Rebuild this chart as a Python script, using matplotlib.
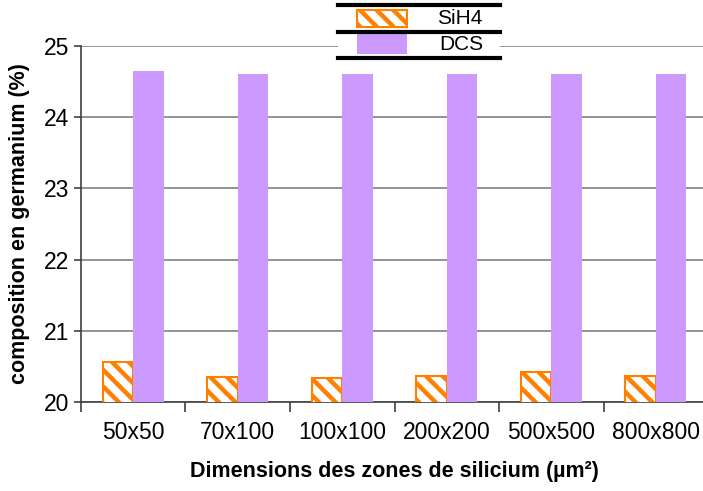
import matplotlib.pyplot as plt
import numpy as np
from matplotlib.lines import Line2D
from matplotlib.patches import Rectangle

plt.rcParams['font.family'] = ['Liberation Sans', 'DejaVu Sans']
plt.rcParams['hatch.linewidth'] = 3.2

categories = ['50x50', '70x100', '100x100', '200x200', '500x500', '800x800']
sih4 = [20.56, 20.35, 20.34, 20.37, 20.42, 20.37]
dcs = [24.65, 24.61, 24.61, 24.61, 24.61, 24.61]
series = ['SiH4', 'DCS']

W, H = 703, 491
fig = plt.figure(figsize=(W / 100, H / 100), dpi=100)
ax = fig.add_axes([0.1152, 0.1813, 0.892, 0.725])

x = np.arange(len(categories))
width = 0.29
orange = '#FF7F00'
purple = '#CC99FF'

ax.bar(x - width / 2, sih4, width, color='white', edgecolor=orange,
       hatch='\\\\', linewidth=1.5, zorder=3)
ax.bar(x + width / 2, dcs, width, color=purple, zorder=3)

ax.set_ylim(20, 25)
ax.set_xlim(-0.5, len(categories) - 0.5)
ax.set_yticks(range(20, 26))
ax.yaxis.grid(True, color='#808080', linewidth=1.2, zorder=0)
ax.set_xticks(x)
ax.set_xticklabels(categories, fontsize=16.5)
ax.tick_params(axis='x', length=0, pad=14)
ax.set_xticks(np.arange(len(categories) + 1) - 0.5, minor=True)
ax.tick_params(axis='x', which='minor', length=7, width=1.2, color='#404040')
ax.tick_params(axis='y', labelsize=16.5, length=5, width=1.2, color='#404040')
for s in ['top', 'right']:
    ax.spines[s].set_visible(False)
for s in ['left', 'bottom']:
    ax.spines[s].set_color('#404040')
    ax.spines[s].set_linewidth(1.2)

ax.set_ylabel('composition en germanium (%)', fontsize=15.5, fontweight='bold', labelpad=10)
ax.set_xlabel('Dimensions des zones de silicium (µm²)', fontsize=15.5, fontweight='bold', labelpad=12)

# legend box at the top (drawn by hand to match the original layout)
def fx(px):
    return px / W

def fy(py):
    return 1 - py / H

fig.add_artist(Rectangle((fx(338), fy(58)), fx(500) - fx(338), fy(5) - fy(58),
                         facecolor='white', edgecolor='none', zorder=8))
for py in [5, 32, 58]:
    fig.add_artist(Line2D([fx(338), fx(500)], [fy(py), fy(py)], color='black',
                          linewidth=3, zorder=10))
fig.add_artist(Rectangle((fx(357), fy(27)), fx(407) - fx(357), fy(10) - fy(27),
                         facecolor='white', edgecolor=orange, hatch='\\\\',
                         linewidth=1.5, zorder=9))
fig.add_artist(Rectangle((fx(357), fy(54)), fx(407) - fx(357), fy(34) - fy(54),
                         facecolor=purple, edgecolor='none', zorder=9))
fig.text(fx(460), fy(19), series[0], fontsize=15, ha='center', va='center', zorder=11)
fig.text(fx(461), fy(45), series[1], fontsize=15, ha='center', va='center', zorder=11)

plt.savefig('out.png', dpi=100)
